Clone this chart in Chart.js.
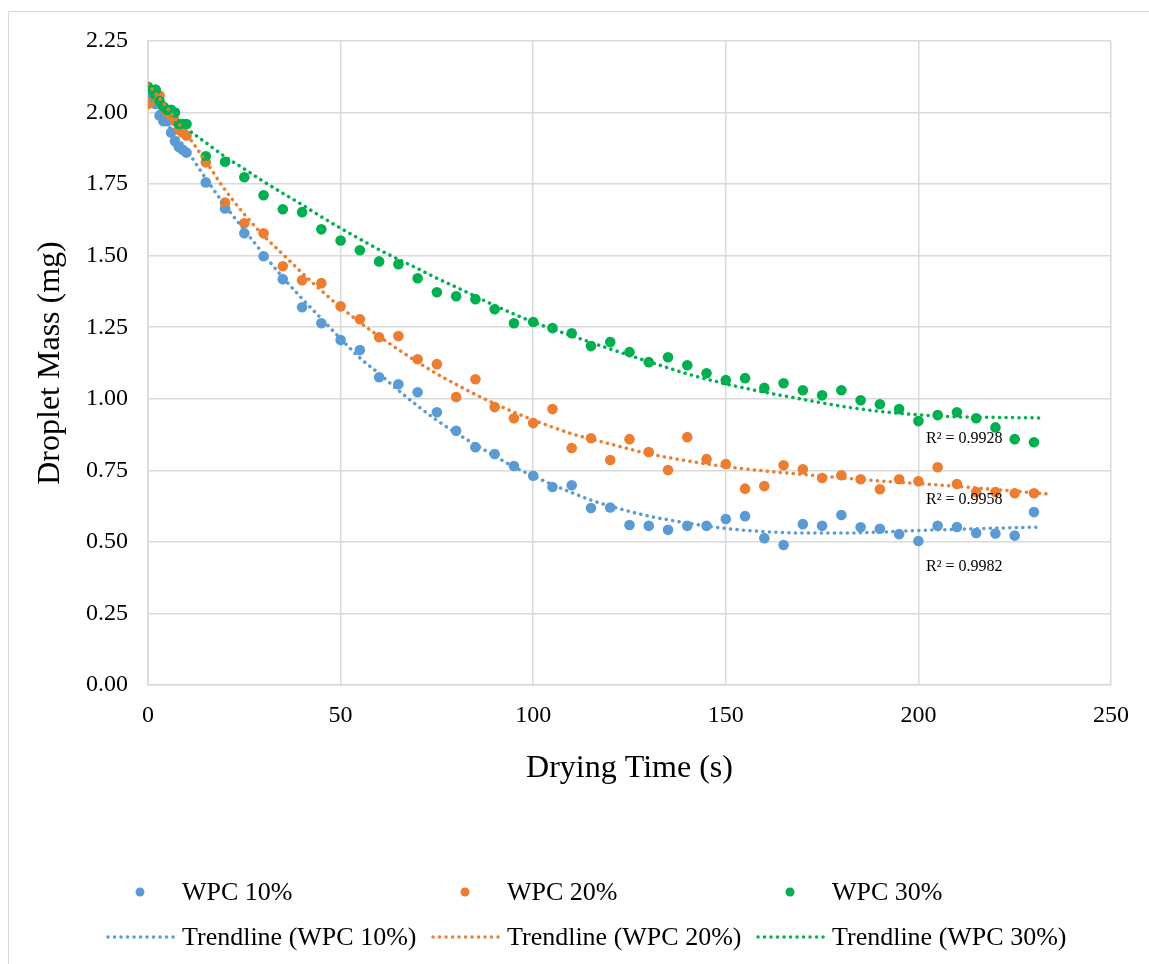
<!DOCTYPE html>
<html>
<head>
<meta charset="utf-8">
<title>Droplet mass vs drying time</title>
<script src="https://cdn.jsdelivr.net/npm/chart.js@4.4.1/dist/chart.umd.min.js"></script>
<style>
  html, body { margin: 0; padding: 0; background: #fff; }
  #wrap { position: relative; width: 1149px; height: 964px; overflow: hidden; }
  #frame { position: absolute; left: 8px; top: 11px; right: 0; bottom: 0;
           border-top: 1px solid #d9d9d9; border-left: 1px solid #d9d9d9; }
  #myChart { position: absolute; left: 0; top: 0; }
</style>
</head>
<body>
<div id="wrap">
  <div id="frame"></div>
  <canvas id="myChart" width="1149" height="964"></canvas>
</div>
<script>
// measured drying times (s)
const time = [0, 1, 2, 3, 4, 5, 6, 7, 8, 9, 10,
  15, 20, 25, 30, 35, 40, 45, 50, 55, 60, 65, 70, 75, 80, 85, 90, 95, 100,
  105, 110, 115, 120, 125, 130, 135, 140, 145, 150, 155, 160, 165, 170, 175,
  180, 185, 190, 195, 200, 205, 210, 215, 220, 225, 230];

// droplet mass (mg)
const wpc10 = [2.06, 2.05, 2.03, 1.99, 1.97, 1.97, 1.93, 1.90, 1.88, 1.87, 1.86,
  1.756, 1.665, 1.578, 1.498, 1.418, 1.320, 1.264, 1.205, 1.170, 1.075, 1.051, 1.023, 0.953, 0.888, 0.831, 0.807, 0.765, 0.731,
  0.692, 0.698, 0.618, 0.620, 0.559, 0.556, 0.542, 0.556, 0.556, 0.580, 0.590, 0.513, 0.489, 0.562, 0.556,
  0.594, 0.551, 0.546, 0.527, 0.503, 0.556, 0.552, 0.531, 0.529, 0.522, 0.604];

const wpc20 = [2.03, 2.04, 2.05, 2.06, 2.02, 2.00, 1.99, 1.97, 1.94, 1.93, 1.92,
  1.826, 1.686, 1.613, 1.578, 1.463, 1.414, 1.404, 1.323, 1.278, 1.215, 1.219, 1.138, 1.121, 1.006, 1.068, 0.971, 0.932, 0.915,
  0.964, 0.828, 0.862, 0.786, 0.859, 0.814, 0.751, 0.866, 0.789, 0.772, 0.686, 0.695, 0.768, 0.754, 0.723,
  0.733, 0.719, 0.684, 0.719, 0.712, 0.761, 0.702, 0.674, 0.674, 0.670, 0.670];

const wpc30 = [2.09, 2.07, 2.08, 2.04, 2.02, 2.01, 2.01, 2.00, 1.96, 1.96, 1.96,
  1.847, 1.828, 1.774, 1.711, 1.662, 1.652, 1.592, 1.553, 1.519, 1.480, 1.470, 1.421, 1.372, 1.358, 1.348, 1.313, 1.264, 1.268,
  1.247, 1.229, 1.184, 1.198, 1.163, 1.128, 1.145, 1.117, 1.089, 1.065, 1.072, 1.038, 1.054, 1.030, 1.012,
  1.030, 0.995, 0.981, 0.964, 0.922, 0.943, 0.953, 0.932, 0.900, 0.859, 0.848];

// trendlines
const trend10T = [0, 5, 10, 15, 20, 25, 30, 35, 40, 45, 50, 55, 60, 65, 70, 75, 80, 85, 90, 95, 100,
  105, 110, 115, 120, 130, 140, 150, 160, 170, 180, 190, 200, 210, 220, 232];
const trend10 = [2.06, 1.96, 1.87, 1.77, 1.675, 1.59, 1.505, 1.424, 1.35, 1.28, 1.21, 1.143, 1.088, 1.03, 0.975, 0.925, 0.88, 0.84, 0.80, 0.762, 0.73,
  0.70, 0.672, 0.646, 0.625, 0.59, 0.566, 0.547, 0.536, 0.531, 0.531, 0.534, 0.540, 0.544, 0.548, 0.552];

const trend20T = [0, 5, 10, 15, 20, 25, 30, 35, 40, 45, 50, 55, 60, 65, 70, 75, 80, 85, 90, 95, 100,
  110, 120, 130, 140, 150, 160, 170, 180, 190, 200, 210, 220, 234];
const trend20 = [2.10, 2.015, 1.925, 1.83, 1.73, 1.645, 1.57, 1.505, 1.44, 1.378, 1.32, 1.267, 1.218, 1.172, 1.128, 1.087, 1.05, 1.015, 0.983, 0.953, 0.926,
  0.878, 0.842, 0.808, 0.783, 0.763, 0.748, 0.736, 0.724, 0.713, 0.704, 0.694, 0.683, 0.667];

const trend30T = [0, 5, 10, 15, 20, 25, 30, 35, 40, 45, 50, 55, 60, 65, 70, 75, 80, 85, 90, 95, 100,
  110, 120, 130, 140, 150, 160, 170, 180, 190, 200, 210, 220, 232];
const trend30 = [2.07, 2.005, 1.945, 1.895, 1.846, 1.803, 1.759, 1.718, 1.678, 1.636, 1.596, 1.558, 1.521, 1.487, 1.455, 1.421, 1.39, 1.358, 1.326, 1.296, 1.268,
  1.22, 1.174, 1.13, 1.087, 1.052, 1.023, 0.998, 0.974, 0.956, 0.944, 0.937, 0.935, 0.933];

const xTicks = [0, 50, 100, 150, 200, 250];
const yTicks = [0, 0.25, 0.5, 0.75, 1, 1.25, 1.5, 1.75, 2, 2.25];

const r2Text = ['R\u00b2 = 0.9982', 'R\u00b2 = 0.9958', 'R\u00b2 = 0.9928'];
const r2At = [[202, 0.412], [202, 0.646], [202, 0.859]];

const blue = '#5B9BD5', orange = '#ED7D31', green = '#00B050';
const serif = '"Liberation Serif", "Times New Roman", serif';

function pts(xs, ys) {
  return xs.map((x, i) => ({ x: x, y: ys[i] }));
}

function scatterSet(label, xs, ys, color, order) {
  return {
    label: label, data: pts(xs, ys), showLine: false, order: order,
    pointRadius: 5.3, pointHoverRadius: 5.3, pointBackgroundColor: color,
    pointBorderColor: color, pointBorderWidth: 0, backgroundColor: color, borderColor: color
  };
}

function trendSet(label, xs, ys, color) {
  return {
    label: label, data: pts(xs, ys), showLine: true, order: 0,
    pointRadius: 0, borderColor: color, backgroundColor: color,
    borderWidth: 3.5, borderDash: [0.1, 6.4], borderCapStyle: 'round',
    cubicInterpolationMode: 'monotone', fill: false
  };
}

// r-squared labels next to the trendlines
const r2Plugin = {
  id: 'r2Labels',
  afterDatasetsDraw(chart) {
    const ctx = chart.ctx, sx = chart.scales.x, sy = chart.scales.y;
    ctx.save();
    ctx.font = '16px ' + serif;
    ctx.fillStyle = '#000';
    ctx.textBaseline = 'middle';
    r2Text.forEach((t, i) => {
      ctx.fillText(t, sx.getPixelForValue(r2At[i][0]), sy.getPixelForValue(r2At[i][1]));
    });
    ctx.restore();
  }
};

// legend in 3 columns like the original
const legendPlugin = {
  id: 'gridLegend',
  afterDraw(chart) {
    const ctx = chart.ctx;
    ctx.save();
    ctx.font = '26px ' + serif;
    ctx.textBaseline = 'middle';
    chart.data.datasets.forEach((ds, i) => {
      const x0 = 106 + (i % 3) * 325;
      const y = i < 3 ? 892 : 937;
      if (ds.showLine) {
        ctx.strokeStyle = ds.borderColor;
        ctx.lineWidth = 3.4;
        ctx.lineCap = 'round';
        ctx.setLineDash([0.1, 6.4]);
        ctx.beginPath();
        ctx.moveTo(x0 + 2, y);
        ctx.lineTo(x0 + 68, y);
        ctx.stroke();
        ctx.setLineDash([]);
      } else {
        ctx.fillStyle = ds.pointBackgroundColor;
        ctx.beginPath();
        ctx.arc(x0 + 34, y, 4.5, 0, Math.PI * 2);
        ctx.fill();
      }
      ctx.fillStyle = '#000';
      ctx.fillText(ds.label, x0 + 76, y + 1);
    });
    ctx.restore();
  }
};

Chart.defaults.font.family = serif;
Chart.defaults.color = '#000';

const ctx = document.getElementById('myChart');
const myChart = new Chart(ctx, {
  type: 'scatter',
  data: {
    datasets: [
      scatterSet('WPC 10%', time, wpc10, blue, 3),
      scatterSet('WPC 20%', time, wpc20, orange, 2),
      scatterSet('WPC 30%', time, wpc30, green, 1),
      trendSet('Trendline (WPC 10%)', trend10T, trend10, blue),
      trendSet('Trendline (WPC 20%)', trend20T, trend20, orange),
      trendSet('Trendline (WPC 30%)', trend30T, trend30, green)
    ]
  },
  options: {
    responsive: false,
    animation: false,
    devicePixelRatio: 1,
    layout: { padding: { left: 10, top: 41, right: 38, bottom: 164 } },
    plugins: { legend: { display: false }, tooltip: { enabled: false } },
    scales: {
      x: {
        type: 'linear', min: 0, max: 250,
        afterFit: (s) => { s.height = 115; },
        afterBuildTicks: (s) => { s.ticks = xTicks.map(v => ({ value: v })); },
        ticks: { font: { size: 24 }, color: '#000', padding: 16, maxRotation: 0 },
        grid: { color: '#d9d9d9', lineWidth: 1.5, drawTicks: false },
        border: { color: '#d9d9d9', width: 1.5 },
        title: { display: true, text: 'Drying Time (s)', font: { size: 32 }, color: '#000', padding: { top: 0, bottom: 12 } }
      },
      y: {
        type: 'linear', min: 0, max: 2.25,
        afterFit: (s) => { s.width = 138; },
        afterBuildTicks: (s) => { s.ticks = yTicks.map(v => ({ value: v })); },
        ticks: { font: { size: 24 }, color: '#000', padding: 20, callback: (v) => v.toFixed(2) },
        grid: { color: '#d9d9d9', lineWidth: 1.5, drawTicks: false },
        border: { color: '#d9d9d9', width: 1.5 },
        title: { display: true, text: 'Droplet Mass (mg)', font: { size: 32 }, color: '#000', padding: { top: 21, bottom: 0 } }
      }
    }
  },
  plugins: [r2Plugin, legendPlugin]
});
</script>
</body>
</html>
